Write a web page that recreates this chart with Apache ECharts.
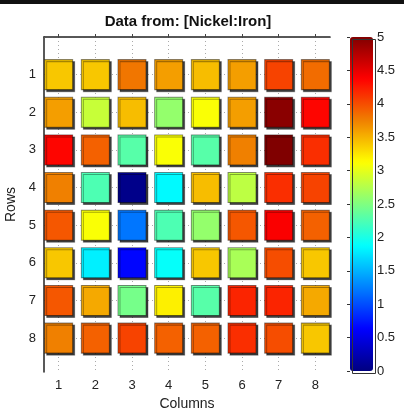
<!DOCTYPE html>
<html>
<head>
<meta charset="utf-8">
<script src="https://cdn.jsdelivr.net/npm/echarts@6/dist/echarts.min.js"></script>
<style>
html,body{margin:0;padding:0;background:#fff;}
#chart{width:404px;height:408px;}
</style>
</head>
<body>
<div id="chart"></div>
<script>
// ---- data ----
const titleText = 'Data from: [Nickel:Iron]';
const columnLabels = [1, 2, 3, 4, 5, 6, 7, 8];
const rowLabels = [1, 2, 3, 4, 5, 6, 7, 8];
const row1 = [3.40, 3.40, 3.80, 3.60, 3.45, 3.60, 4.05, 3.85];
const row2 = [3.60, 2.85, 3.45, 2.60, 3.10, 3.60, 4.95, 4.35];
const row3 = [4.35, 3.90, 2.30, 3.10, 2.30, 3.75, 5.00, 4.15];
const row4 = [3.75, 2.25, 0.05, 1.85, 3.45, 2.80, 4.15, 4.05];
const row5 = [3.95, 3.10, 1.20, 2.25, 2.60, 3.95, 4.40, 3.90];
const row6 = [3.40, 1.80, 0.65, 1.90, 3.40, 2.70, 4.00, 3.40];
const row7 = [3.95, 3.55, 2.45, 3.20, 2.30, 4.20, 4.20, 3.55];
const row8 = [3.75, 3.90, 4.05, 3.90, 3.90, 4.15, 4.00, 3.40];
const colorbarMin = 0;
const colorbarMax = 5;
const colorbarStep = 0.5;
// jet colormap stops (evenly spaced)
const jetColors = ['#000080', '#0000ff', '#0080ff', '#00ffff', '#80ff80', '#ffff00', '#f08000', '#ff0000', '#800000'];

const valueRows = [row1, row2, row3, row4, row5, row6, row7, row8];
const cells = [];
valueRows.forEach((vals, r) => {
  vals.forEach((v, c) => cells.push([columnLabels[c], rowLabels[r], v]));
});

const FONT = 'Liberation Sans, Arial, sans-serif';
const chart = echarts.init(document.getElementById('chart'), null, {renderer: 'canvas'});
chart.setOption({
  animation: false,
  backgroundColor: '#fff',
  title: {
    text: titleText,
    left: 183, top: 9, textAlign: 'center',
    textStyle: {fontFamily: FONT, fontSize: 15, fontWeight: 'bold', color: '#111'}
  },
  grid: [
    {left: 44, top: 37, width: 286, height: 335, outerBoundsMode: 'none', containLabel: false},
    {left: 350, top: 37, width: 23, height: 334, outerBoundsMode: 'none', containLabel: false}
  ],
  xAxis: [
    {
      type: 'value', gridIndex: 0, min: 0.6, max: 8.4, position: 'bottom',
      name: 'Columns', nameLocation: 'middle', nameGap: 20,
      nameTextStyle: {fontFamily: FONT, fontSize: 14, color: '#222'},
      axisLine: {show: true, lineStyle: {color: '#222', width: 1.5}},
      axisTick: {show: true, inside: true, length: 3, customValues: columnLabels, lineStyle: {color: '#444'}},
      axisLabel: {customValues: columnLabels, fontFamily: FONT, fontSize: 13, color: '#222', margin: 7},
      splitLine: {show: true, lineStyle: {color: '#aaa', type: [1, 3], width: 1}}
    },
    {
      type: 'value', gridIndex: 0, min: 0.6, max: 8.4, position: 'top',
      axisLine: {show: true, lineStyle: {color: '#555', type: [2, 3], width: 1}},
      axisTick: {show: false}, axisLabel: {show: false}, splitLine: {show: false}
    },
    {type: 'value', gridIndex: 1, show: false, min: 0, max: 1}
  ],
  yAxis: [
    {
      type: 'value', gridIndex: 0, min: 0, max: 8.9, inverse: true,
      name: 'Rows', nameLocation: 'middle', nameGap: 25, nameRotate: 90,
      nameTextStyle: {fontFamily: FONT, fontSize: 14, color: '#222'},
      axisLine: {show: true, lineStyle: {color: '#222', width: 1.5}},
      axisTick: {show: true, inside: true, length: 3, customValues: rowLabels, lineStyle: {color: '#444'}},
      axisLabel: {customValues: rowLabels, fontFamily: FONT, fontSize: 13, color: '#222', margin: 8},
      splitLine: {show: true, lineStyle: {color: '#aaa', type: [1, 3], width: 1}}
    },
    {
      type: 'value', gridIndex: 1, min: colorbarMin, max: colorbarMax, interval: colorbarStep, position: 'right',
      axisLine: {show: false},
      axisTick: {show: true, inside: true, length: 3, lineStyle: {color: '#333'}},
      axisLabel: {fontFamily: FONT, fontSize: 13, color: '#222', margin: 4},
      splitLine: {show: false}
    }
  ],
  visualMap: {
    type: 'continuous',
    min: colorbarMin, max: colorbarMax,
    seriesIndex: 0, dimension: 2,
    orient: 'vertical',
    left: 350, top: 37,
    itemWidth: 23, itemHeight: 334,
    padding: 0,
    calculable: false, hoverLink: false,
    text: null, showLabel: false,
    inRange: {color: jetColors}
  },
  graphic: [
    {type: 'rect', left: 0, top: 0, shape: {width: 404, height: 4}, style: {fill: '#111'}, z: 100},
    {type: 'rect', left: 350, top: 37, shape: {width: 23, height: 334}, style: {fill: 'none', stroke: '#333', lineWidth: 1}, z: 100}
  ],
  series: [
    {
      type: 'scatter', xAxisIndex: 0, yAxisIndex: 0,
      symbol: 'rect', symbolSize: [28, 30],
      silent: true,
      itemStyle: {
        opacity: 1,
        borderColor: 'rgba(0,0,0,0.45)', borderWidth: 1,
        shadowColor: 'rgba(0,0,0,0.75)', shadowOffsetX: 2, shadowOffsetY: 2, shadowBlur: 0
      },
      data: cells
    }
  ]
});
</script>
</body>
</html>
